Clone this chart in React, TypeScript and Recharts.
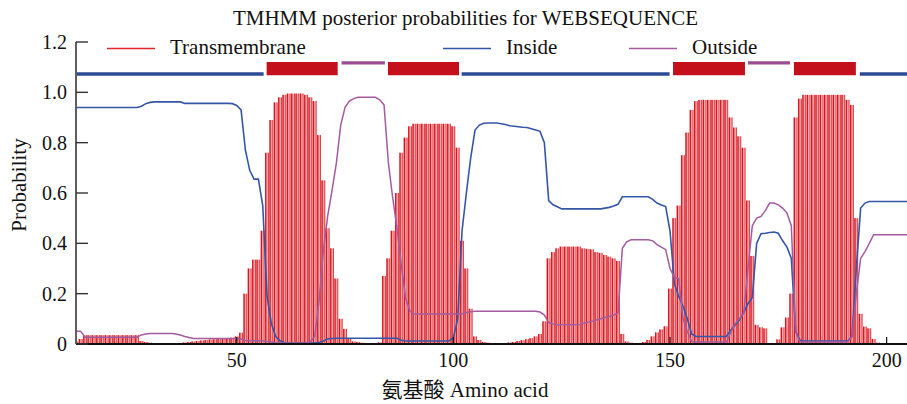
import React from "react";
import {
  ComposedChart,
  Bar,
  Line,
  XAxis,
  YAxis,
  ReferenceArea,
  ReferenceLine,
} from "recharts";

const FIRST_RESIDUE = 13;

// posterior probabilities per residue, starting at residue 13 (10 per row)
const tmProb = [
  0.01, 0.02, 0.035, 0.035, 0.035, 0.035, 0.035, 0.035, 0.035, 0.035,
  0.035, 0.035, 0.035, 0.035, 0.035, 0.012, 0.008, 0.005, 0, 0,
  0, 0, 0.002, 0.003, 0.004, 0.006, 0.008, 0.01, 0.012, 0.014,
  0.016, 0.018, 0.019, 0.02, 0.02, 0.022, 0.025, 0.03, 0.045, 0.2,
  0.3, 0.335, 0.335, 0.45, 0.76, 0.89, 0.96, 0.98, 0.99, 0.995,
  0.995, 0.995, 0.995, 0.99, 0.98, 0.965, 0.83, 0.65, 0.46, 0.38,
  0.26, 0.1, 0.06, 0.02, 0.01, 0.008, 0.005, 0.003, 0.002, 0.003,
  0.006, 0.27, 0.34, 0.45, 0.6, 0.76, 0.82, 0.865, 0.875, 0.875,
  0.875, 0.875, 0.875, 0.875, 0.875, 0.875, 0.875, 0.865, 0.78, 0.41,
  0.3, 0.14, 0.03, 0.016, 0.008, 0.005, 0.003, 0.002, 0.002, 0.004,
  0.006, 0.008, 0.012, 0.015, 0.019, 0.023, 0.03, 0.04, 0.09, 0.34,
  0.365, 0.38, 0.387, 0.387, 0.387, 0.387, 0.387, 0.38, 0.378, 0.376,
  0.365, 0.362, 0.354, 0.347, 0.34, 0.33, 0.04, 0.01, 0.005, 0.003,
  0.004, 0.008, 0.016, 0.03, 0.046, 0.058, 0.07, 0.22, 0.5, 0.55,
  0.75, 0.84, 0.93, 0.965, 0.97, 0.97, 0.97, 0.97, 0.97, 0.97,
  0.97, 0.9, 0.86, 0.825, 0.78, 0.57, 0.35, 0.076, 0.066, 0.062,
  0.004, 0.003, 0.018, 0.066, 0.105, 0.2, 0.9, 0.975, 0.99, 0.99,
  0.99, 0.99, 0.99, 0.99, 0.99, 0.99, 0.99, 0.99, 0.97, 0.95,
  0.5, 0.12, 0.069, 0.062, 0.02, 0.005, 0, 0, 0, 0,
  0, 0, 0,
];

const insideProb = [
  0.94, 0.94, 0.94, 0.94, 0.94, 0.94, 0.94, 0.94, 0.94, 0.94,
  0.94, 0.94, 0.94, 0.94, 0.94, 0.945, 0.955, 0.96, 0.962, 0.962,
  0.962, 0.962, 0.962, 0.962, 0.962, 0.956, 0.956, 0.956, 0.956, 0.956,
  0.956, 0.956, 0.956, 0.956, 0.956, 0.956, 0.955, 0.948, 0.93, 0.77,
  0.69, 0.655, 0.655, 0.55, 0.19, 0.08, 0.03, 0.013, 0.006, 0.005,
  0.004, 0.004, 0.004, 0.004, 0.004, 0.004, 0.006, 0.012, 0.02, 0.022,
  0.023, 0.023, 0.023, 0.023, 0.023, 0.023, 0.023, 0.023, 0.023, 0.023,
  0.023, 0.023, 0.023, 0.023, 0.023, 0.015, 0.012, 0.012, 0.012, 0.012,
  0.012, 0.012, 0.012, 0.012, 0.012, 0.012, 0.012, 0.025, 0.1, 0.45,
  0.6, 0.74, 0.85, 0.87, 0.877, 0.878, 0.878, 0.878, 0.875, 0.872,
  0.867, 0.865, 0.863, 0.861, 0.86, 0.855, 0.85, 0.845, 0.8, 0.57,
  0.553, 0.545, 0.537, 0.537, 0.537, 0.537, 0.537, 0.537, 0.537, 0.537,
  0.537, 0.537, 0.54, 0.543, 0.548, 0.555, 0.585, 0.585, 0.585, 0.585,
  0.585, 0.585, 0.585, 0.575, 0.56, 0.552, 0.546, 0.45, 0.24, 0.19,
  0.15, 0.1, 0.04, 0.03, 0.03, 0.03, 0.03, 0.03, 0.03, 0.03,
  0.03, 0.055, 0.075, 0.095, 0.125, 0.16, 0.185, 0.4, 0.438, 0.44,
  0.443, 0.445, 0.44, 0.41, 0.385, 0.34, 0.05, 0.015, 0.012, 0.012,
  0.012, 0.012, 0.012, 0.012, 0.012, 0.012, 0.012, 0.012, 0.012, 0.03,
  0.3, 0.54, 0.56, 0.566, 0.566, 0.566, 0.566, 0.566, 0.566, 0.566,
  0.566, 0.566, 0.566,
];

const outsideProb = [
  0.052, 0.05, 0.027, 0.027, 0.027, 0.027, 0.027, 0.027, 0.027, 0.027,
  0.027, 0.027, 0.027, 0.027, 0.027, 0.036, 0.04, 0.042, 0.042, 0.042,
  0.042, 0.042, 0.042, 0.04, 0.036, 0.03, 0.026, 0.022, 0.022, 0.022,
  0.022, 0.022, 0.022, 0.022, 0.022, 0.022, 0.022, 0.022, 0.02, 0.014,
  0.013, 0.013, 0.013, 0.013, 0.01, 0.008, 0.005, 0.004, 0.004, 0.004,
  0.004, 0.004, 0.004, 0.004, 0.01, 0.03, 0.17, 0.37, 0.51, 0.61,
  0.72, 0.87, 0.94, 0.965, 0.975, 0.98, 0.98, 0.98, 0.98, 0.98,
  0.97, 0.95, 0.72, 0.58, 0.46, 0.31, 0.18, 0.13, 0.119, 0.119,
  0.119, 0.119, 0.119, 0.119, 0.119, 0.119, 0.119, 0.119, 0.119, 0.12,
  0.125, 0.128, 0.13, 0.13, 0.13, 0.13, 0.13, 0.13, 0.13, 0.13,
  0.13, 0.13, 0.13, 0.13, 0.13, 0.13, 0.13, 0.127, 0.115, 0.085,
  0.08, 0.076, 0.076, 0.076, 0.076, 0.076, 0.076, 0.083, 0.086, 0.09,
  0.095, 0.1, 0.105, 0.109, 0.115, 0.122, 0.38, 0.406, 0.414, 0.414,
  0.414, 0.414, 0.414, 0.41, 0.395, 0.385, 0.375, 0.3, 0.265, 0.26,
  0.1, 0.05, 0.01, 0.008, 0.008, 0.008, 0.008, 0.008, 0.008, 0.008,
  0.008, 0.045, 0.08, 0.1, 0.12, 0.3, 0.47, 0.5, 0.507, 0.53,
  0.56, 0.56, 0.553, 0.54, 0.52, 0.47, 0.05, 0.008, 0.008, 0.008,
  0.008, 0.008, 0.008, 0.008, 0.008, 0.008, 0.008, 0.008, 0.008, 0.03,
  0.2, 0.34, 0.367, 0.4, 0.434, 0.434, 0.434, 0.434, 0.434, 0.434,
  0.434, 0.434, 0.434,
];

const xTicks = [50, 100, 150, 200];
const yTicks = [0, 0.2, 0.4, 0.6, 0.8, 1.0, 1.2];

// predicted topology strip, [from, to] in residues
const insideSegments = [[12.9, 56.2], [101.9, 149.9], [193.8, 204.7]];
const membraneSegments = [[56.9, 73.3], [84.9, 101.3], [150.7, 167.3], [178.6, 192.9]];
const outsideSegments = [[74.2, 84.2], [168.0, 177.7]];

const series = [
  { key: "tm", name: "Transmembrane", color: "#e3262e", x: 107 },
  { key: "inside", name: "Inside", color: "#3556a8", x: 443 },
  { key: "outside", name: "Outside", color: "#a45ba0", x: 629 },
];

const FONT = "'Liberation Serif', 'Times New Roman', 'Noto Sans CJK SC', serif";

const data = tmProb.map((tm, i) => ({
  residue: FIRST_RESIDUE + i,
  tm,
  inside: insideProb[i],
  outside: outsideProb[i],
}));

// each residue is an impulse: pink body with red strokes
const ImpulseBar = (props: any) => {
  const { x, y, width, height } = props;
  if (!height || height <= 0) return null;
  return (
    <g>
      <rect x={x} y={y} width={width} height={height} fill="#f3a7aa" />
      <rect x={x + 0.2} y={y} width={1.3} height={height} fill="#d9141e" />
      <rect x={x + width - 0.9} y={y} width={0.9} height={height} fill="#e0363d" />
    </g>
  );
};

const YTick = (props: any) => {
  const { x, y, payload } = props;
  const v = payload.value;
  return (
    <g>
      <line x1={x} x2={x + 12} y1={y} y2={y} stroke="#333" strokeWidth={1.4} />
      <text x={x - 9} y={y + 7} textAnchor="end" fontSize={20} fontFamily={FONT} fill="#111">
        {v === 0 ? "0" : v.toFixed(1)}
      </text>
    </g>
  );
};

const XTick = (props: any) => {
  const { x, y, payload } = props;
  return (
    <g>
      <line x1={x} x2={x} y1={y} y2={y - 7} stroke="#111" strokeWidth={1.2} />
      <text x={x} y={y + 23} textAnchor="middle" fontSize={20} fontFamily={FONT} fill="#111">
        {payload.value}
      </text>
    </g>
  );
};

export default function App() {
  return (
    <div style={{ position: "absolute", left: 0, top: 0, width: 907, height: 404, background: "#fff" }}>
      <ComposedChart
        width={907}
        height={404}
        data={data}
        margin={{ top: 42, right: 0, bottom: 0, left: 0 }}
      >
        <XAxis
          dataKey="residue"
          type="number"
          domain={[12.9, 204.7]}
          allowDataOverflow
          ticks={xTicks}
          tick={<XTick />}
          tickLine={false}
          tickSize={0}
          tickMargin={0}
          height={60}
          axisLine={{ stroke: "#111", strokeWidth: 2 }}
          label={() => (
            <text x={465} y={397} textAnchor="middle" fontSize={21} fontFamily={FONT} fill="#111">
              氨基酸 Amino acid
            </text>
          )}
        />
        <YAxis
          type="number"
          domain={[0, 1.2]}
          ticks={yTicks}
          tick={<YTick />}
          tickLine={false}
          tickSize={0}
          tickMargin={0}
          width={76}
          axisLine={{ stroke: "#5f5f5f", strokeWidth: 2 }}
          label={() => (
            <text
              transform="translate(26,185) rotate(-90)"
              textAnchor="middle"
              fontSize={21}
              fontFamily={FONT}
              fill="#111"
            >
              Probability
            </text>
          )}
        />
        <Bar dataKey="tm" barSize={4} shape={<ImpulseBar />} isAnimationActive={false} />
        <Line
          type="linear"
          dataKey="inside"
          stroke="#3556a8"
          strokeWidth={1.6}
          dot={false}
          isAnimationActive={false}
        />
        <Line
          type="linear"
          dataKey="outside"
          stroke="#a45ba0"
          strokeWidth={1.5}
          dot={false}
          isAnimationActive={false}
        />
        {membraneSegments.map(([a, b], i) => (
          <ReferenceArea
            key={"tm" + i}
            x1={a}
            x2={b}
            y1={1.068}
            y2={1.121}
            fill="#c4101a"
            fillOpacity={1}
            stroke="none"
            ifOverflow="visible"
          />
        ))}
        {insideSegments.map(([a, b], i) => (
          <ReferenceLine
            key={"in" + i}
            segment={[{ x: a, y: 1.073 }, { x: b, y: 1.073 }]}
            stroke="#2b4b96"
            strokeWidth={3.6}
            ifOverflow="visible"
          />
        ))}
        {outsideSegments.map(([a, b], i) => (
          <ReferenceLine
            key={"out" + i}
            segment={[{ x: a, y: 1.117 }, { x: b, y: 1.117 }]}
            stroke="#9a4d8f"
            strokeWidth={3.2}
            ifOverflow="visible"
          />
        ))}
      </ComposedChart>
      <svg
        width={907}
        height={70}
        style={{ position: "absolute", left: 0, top: 0, pointerEvents: "none" }}
      >
        <text x={465.5} y={25} textAnchor="middle" fontSize={21} fontFamily={FONT} fill="#111">
          TMHMM posterior probabilities for WEBSEQUENCE
        </text>
        {series.map((s) => (
          <g key={s.key}>
            <line x1={s.x} x2={s.x + 48} y1={48.5} y2={48.5} stroke={s.color} strokeWidth={1.3} />
            <text x={s.x + 63} y={54} fontSize={21} fontFamily={FONT} fill="#111">
              {s.name}
            </text>
          </g>
        ))}
      </svg>
    </div>
  );
}
